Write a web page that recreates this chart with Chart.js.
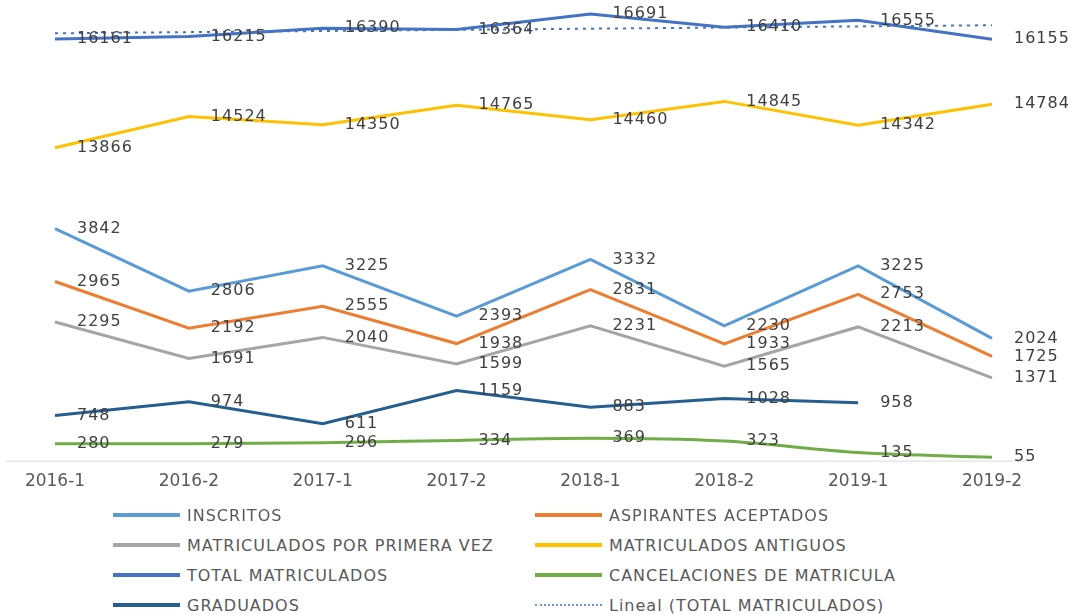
<!DOCTYPE html>
<html lang="es">
<head>
  <meta charset="UTF-8">
  <title>Matrículas por periodo</title>
  <script src="https://cdn.jsdelivr.net/npm/chart.js"></script>
  <style>
    html, body { margin: 0; padding: 0; background: #fff; }
    body { width: 1071px; height: 614px; position: relative; overflow: hidden; font-family: "DejaVu Sans", sans-serif; }
    #wrap { position: absolute; left: 0; top: 0; width: 1071px; height: 510px; }
    #legend { position: absolute; left: 0; top: 500px; width: 1071px; }
    .item { position: absolute; height: 30px; display: flex; align-items: center; font-size: 16px; color: #595959; letter-spacing: 1px; white-space: nowrap; }
    .item .swatch { width: 67px; margin-right: 7px; }
  </style>
</head>
<body>
  <div id="wrap"><canvas id="chart"></canvas></div>
  <div id="legend"></div>

  <script>
    // periods
    const periods = ['2016-1', '2016-2', '2017-1', '2017-2', '2018-1', '2018-2', '2019-1', '2019-2'];

    // series
    const inscritos = [3842, 2806, 3225, 2393, 3332, 2230, 3225, 2024];
    const aspirantes = [2965, 2192, 2555, 1938, 2831, 1933, 2753, 1725];
    const primeraVez = [2295, 1691, 2040, 1599, 2231, 1565, 2213, 1371];
    const antiguos = [13866, 14524, 14350, 14765, 14460, 14845, 14342, 14784];
    const totalMatriculados = [16161, 16215, 16390, 16364, 16691, 16410, 16555, 16155];
    const cancelaciones = [280, 279, 296, 334, 369, 323, 135, 55];
    const graduados = [748, 974, 611, 1159, 883, 1028, 958, null];
    // linear trend of total, only its two ends are shown
    const tendenciaTotal = [16282, null, null, null, null, null, null, 16452];

    const datasets = [
      { label: 'INSCRITOS', data: inscritos, borderColor: '#5B9BD5', yAxisID: 'yLow' },
      { label: 'ASPIRANTES ACEPTADOS', data: aspirantes, borderColor: '#ED7D31', yAxisID: 'yLow' },
      { label: 'MATRICULADOS POR PRIMERA VEZ', data: primeraVez, borderColor: '#A5A5A5', yAxisID: 'yLow' },
      { label: 'MATRICULADOS ANTIGUOS', data: antiguos, borderColor: '#FFC000', yAxisID: 'yHigh' },
      { label: 'TOTAL MATRICULADOS', data: totalMatriculados, borderColor: '#4472C4', yAxisID: 'yHigh' },
      { label: 'CANCELACIONES DE MATRICULA', data: cancelaciones, borderColor: '#70AD47', yAxisID: 'yLow', cubicInterpolationMode: 'monotone' },
      { label: 'GRADUADOS', data: graduados, borderColor: '#255E91', yAxisID: 'yLow' },
      { label: 'Lineal (TOTAL MATRICULADOS)', data: tendenciaTotal, borderColor: '#4472C4', yAxisID: 'yHigh',
        borderWidth: 2, borderDash: [3, 5], spanGaps: true, trend: true }
    ];
    datasets.forEach(d => {
      d.pointRadius = 0;
      d.pointHoverRadius = 0;
      if (!d.borderWidth) d.borderWidth = 3;
      d.fill = false;
    });

    // value labels to the right of each point
    const valueLabels = {
      id: 'valueLabels',
      afterDatasetsDraw(chart) {
        const ctx = chart.ctx;
        ctx.save();
        ctx.font = '16px "DejaVu Sans"';
        ctx.letterSpacing = '1px';
        ctx.fillStyle = '#404040';
        ctx.textAlign = 'left';
        ctx.textBaseline = 'middle';
        chart.data.datasets.forEach((ds, i) => {
          if (ds.trend) return;
          chart.getDatasetMeta(i).data.forEach((pt, j) => {
            const v = ds.data[j];
            if (v === null || v === undefined) return;
            ctx.fillText(String(v), pt.x + 22, pt.y);
          });
        });
        ctx.restore();
      }
    };

    // category axis base line, a bit wider than the plot like the original
    const baseLine = {
      id: 'baseLine',
      beforeDatasetsDraw(chart) {
        const a = chart.chartArea;
        const ctx = chart.ctx;
        ctx.save();
        ctx.strokeStyle = '#D9D9D9';
        ctx.lineWidth = 1;
        ctx.beginPath();
        ctx.moveTo(a.left - 49, a.bottom + 0.5);
        ctx.lineTo(a.right + 35, a.bottom + 0.5);
        ctx.stroke();
        ctx.restore();
      }
    };

    Chart.defaults.font.family = '"DejaVu Sans", sans-serif';

    new Chart(document.getElementById('chart'), {
      type: 'line',
      data: { labels: periods, datasets: datasets },
      options: {
        responsive: true,
        maintainAspectRatio: false,
        animation: false,
        layout: { padding: { left: 55, right: 79, top: 4, bottom: 7 } },
        plugins: {
          legend: { display: false },
          tooltip: { enabled: false }
        },
        scales: {
          x: {
            grid: { display: false, drawTicks: false },
            border: { display: false },
            ticks: { color: '#595959', font: { size: 17 }, padding: 11, maxRotation: 0, autoSkip: false }
          },
          yLow: {
            type: 'linear', position: 'left', stack: 'v', stackWeight: 272,
            min: 0, max: 4500,
            grid: { display: false, drawTicks: false },
            border: { display: false },
            ticks: { display: false }
          },
          yHigh: {
            type: 'linear', position: 'left', stack: 'v', stackWeight: 185,
            min: 13000, max: 16900,
            grid: { display: false, drawTicks: false },
            border: { display: false },
            ticks: { display: false }
          }
        }
      },
      plugins: [baseLine, valueLabels]
    });

    // legend in two columns
    const legend = document.getElementById('legend');
    datasets.forEach((d, i) => {
      const item = document.createElement('div');
      item.className = 'item';
      item.style.left = (i % 2 === 0 ? 113 : 535) + 'px';
      item.style.top = (Math.floor(i / 2) * 30) + 'px';
      const sw = document.createElement('span');
      sw.className = 'swatch';
      sw.style.borderTop = d.trend ? '2px dotted #6F93D8' : '4px solid ' + d.borderColor;
      item.appendChild(sw);
      item.appendChild(document.createTextNode(d.label));
      legend.appendChild(item);
    });
  </script>
</body>
</html>
